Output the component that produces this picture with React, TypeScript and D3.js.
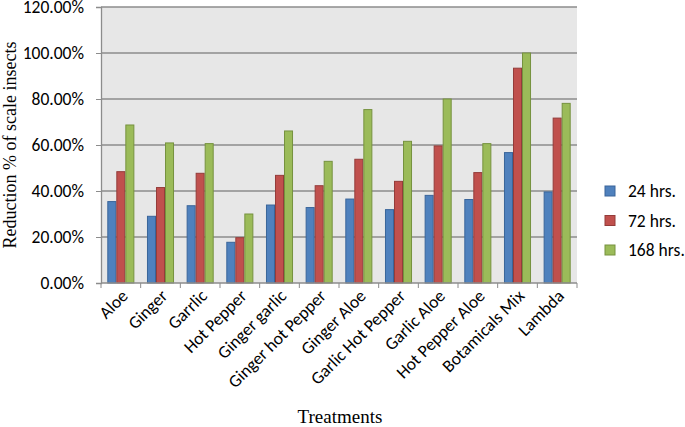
import React, { useEffect, useRef } from 'react';
import * as d3 from 'd3';

const treatments = [
  'Aloe', 'Ginger', 'Garrlic', 'Hot Pepper', 'Ginger garlic', 'Ginger hot Pepper',
  'Ginger Aloe', 'Garlic Hot Pepper', 'Garlic Aloe', 'Hot Pepper Aloe', 'Botamicals Mix', 'Lambda'
];
const seriesNames = ['24 hrs.', '72 hrs.', '168 hrs.'];
const hrs24 = [35.4, 29.0, 33.6, 17.7, 33.9, 32.8, 36.5, 31.9, 38.1, 36.3, 56.7, 39.6];
const hrs72 = [48.4, 41.5, 47.7, 19.7, 46.8, 42.3, 53.8, 44.2, 59.6, 48.0, 93.4, 71.7];
const hrs168 = [68.7, 60.9, 60.6, 30.0, 66.1, 52.9, 75.4, 61.6, 80.0, 60.6, 100.0, 78.1];
const yTicks = [0, 20, 40, 60, 80, 100, 120];

const fills = ['#4F81BD', '#C0504D', '#9BBB59'];
const strokes = ['#3A659A', '#943C3A', '#76923F'];

const App: React.FC = () => {
  const svgRef = useRef<SVGSVGElement>(null);

  useEffect(() => {
    if (!svgRef.current) return;
    const svg = d3.select(svgRef.current);
    svg.selectAll('*').remove();

    const left = 101, right = 577, top = 7, bottom = 283;
    const sans = 'Carlito, Calibri, Lato, sans-serif';
    const serif = '"Liberation Serif", "Times New Roman", serif';

    const x = d3.scaleBand().domain(treatments).range([left, right]).paddingInner(0).paddingOuter(0);
    const x1 = d3.scaleBand().domain(seriesNames).range([0, x.bandwidth()]).paddingInner(0).paddingOuter(0.7);
    const y = d3.scaleLinear().domain([0, 120]).range([bottom, top]);

    // plot background
    svg.append('rect')
      .attr('x', left).attr('y', top)
      .attr('width', right - left).attr('height', bottom - top)
      .attr('fill', '#E7E7E7');

    // gridlines
    svg.append('g')
      .selectAll('line')
      .data(yTicks.filter(t => t > 0))
      .enter().append('line')
      .attr('x1', left).attr('x2', right)
      .attr('y1', d => y(d)).attr('y2', d => y(d))
      .attr('stroke', '#8C8C8C').attr('stroke-width', 1.3);

    // bars
    const data = [hrs24, hrs72, hrs168];
    const groups = svg.append('g')
      .selectAll('g')
      .data(treatments)
      .enter().append('g')
      .attr('transform', d => `translate(${x(d)},0)`);

    groups.selectAll('rect')
      .data((_, i) => data.map((s, j) => ({ key: seriesNames[j], value: s[i], j })))
      .enter().append('rect')
      .attr('x', d => (x1(d.key) || 0) + 0.5)
      .attr('y', d => y(d.value))
      .attr('width', x1.bandwidth() - 1)
      .attr('height', d => bottom - y(d.value))
      .attr('fill', d => fills[d.j])
      .attr('stroke', d => strokes[d.j])
      .attr('stroke-width', 1);

    // y axis
    const yAxis = svg.append('g')
      .attr('transform', `translate(${left},0)`)
      .call(d3.axisLeft(y).tickValues(yTicks).tickSize(5).tickPadding(12)
        .tickFormat(d => `${(+d).toFixed(2)}%`));
    yAxis.select('.domain').attr('stroke', '#8C8C8C').attr('stroke-width', 1.3);
    yAxis.selectAll('line').attr('stroke', '#8C8C8C');
    yAxis.selectAll('text')
      .attr('fill', '#000')
      .style('font-family', sans)
      .style('font-size', '17.5px');

    // x axis
    const xTicks = treatments.map(t => x(t) || 0).concat([right]);
    const xAxisG = svg.append('g');
    xAxisG.append('line')
      .attr('x1', left).attr('x2', right)
      .attr('y1', bottom).attr('y2', bottom)
      .attr('stroke', '#8C8C8C').attr('stroke-width', 1.3);
    xAxisG.selectAll('line.tick')
      .data(xTicks)
      .enter().append('line')
      .attr('class', 'tick')
      .attr('x1', d => d).attr('x2', d => d)
      .attr('y1', bottom).attr('y2', bottom + 5)
      .attr('stroke', '#8C8C8C');

    xAxisG.selectAll('text')
      .data(treatments)
      .enter().append('text')
      .attr('transform', d => `translate(${(x(d) || 0) + x.bandwidth() / 2 + 8},${bottom + 14}) rotate(-45)`)
      .attr('text-anchor', 'end')
      .style('font-family', sans)
      .style('font-size', '17.5px')
      .attr('fill', '#000')
      .text(d => d);

    // axis titles
    svg.append('text')
      .attr('transform', `translate(16,${(top + bottom) / 2}) rotate(-90)`)
      .attr('text-anchor', 'middle')
      .style('font-family', serif)
      .style('font-size', '18px')
      .text('Reduction % of scale insects');

    svg.append('text')
      .attr('x', 340).attr('y', 423)
      .attr('text-anchor', 'middle')
      .style('font-family', serif)
      .style('font-size', '19px')
      .text('Treatments');

    // legend
    const legend = svg.append('g')
      .selectAll('g')
      .data(seriesNames)
      .enter().append('g')
      .attr('transform', (_, i) => `translate(605,${186 + i * 29.5})`);
    legend.append('rect')
      .attr('width', 10).attr('height', 10)
      .attr('fill', (_, i) => fills[i])
      .attr('stroke', (_, i) => strokes[i]);
    legend.append('text')
      .attr('x', 23).attr('y', 11)
      .style('font-family', sans)
      .style('font-size', '17.5px')
      .text(d => d);
  }, []);

  return (
    <svg
      ref={svgRef}
      width={685}
      height={427}
      style={{ position: 'absolute', left: 0, top: 0, background: '#fff' }}
    />
  );
};

export default App;
